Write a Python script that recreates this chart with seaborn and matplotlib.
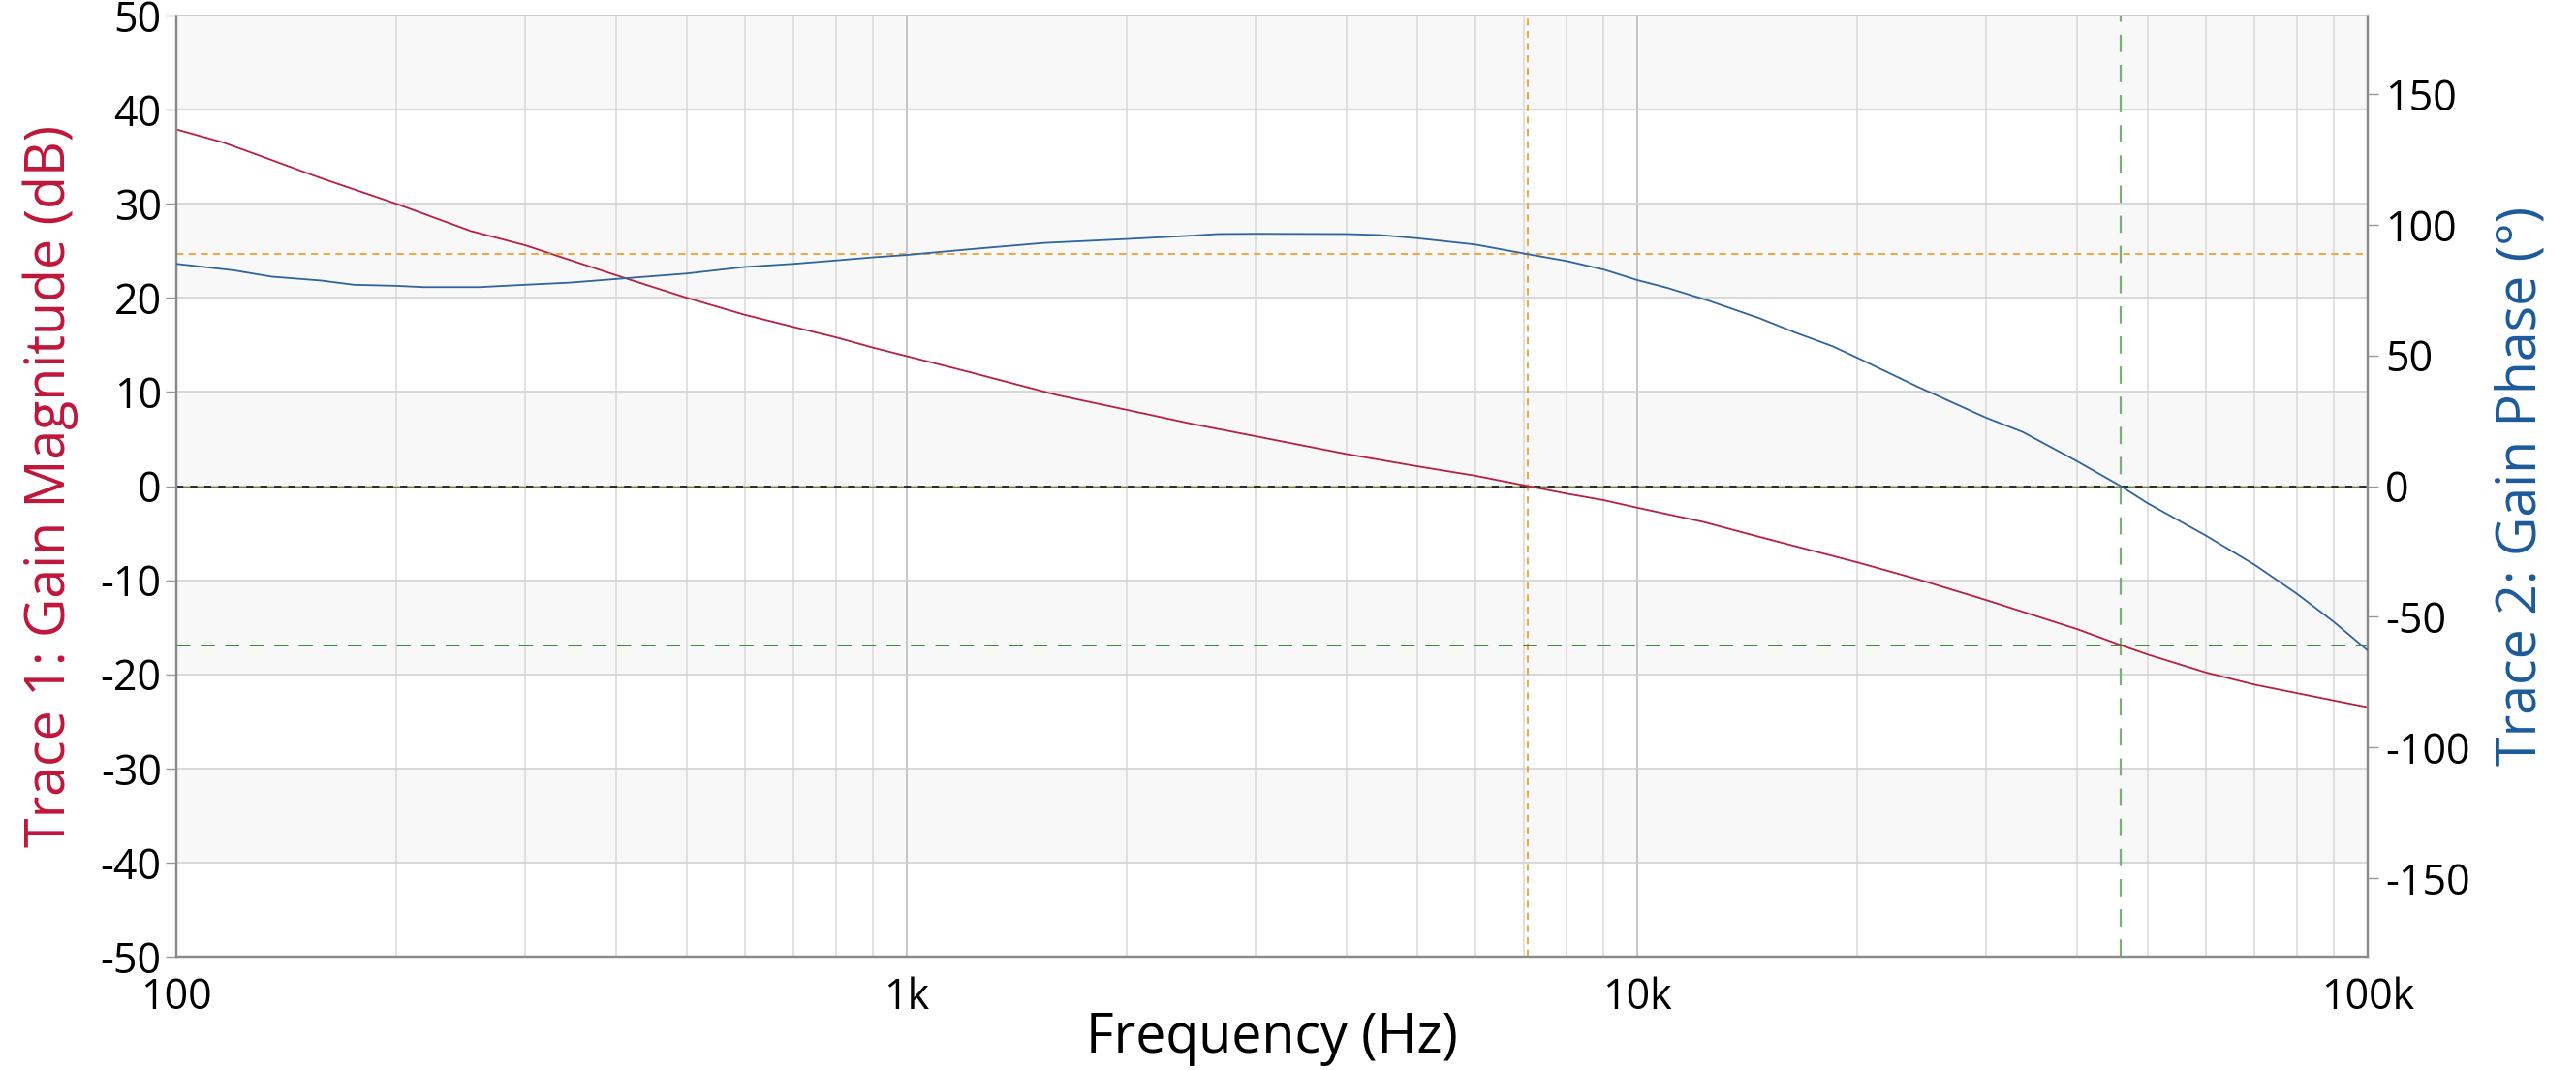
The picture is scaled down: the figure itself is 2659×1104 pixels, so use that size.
import numpy as np
import pandas as pd
import matplotlib
matplotlib.use("Agg")
import matplotlib.pyplot as plt
from matplotlib.ticker import FixedLocator, NullFormatter, LogLocator
import seaborn as sns

# ---- data ----
mag_freq = [100, 116, 127, 158, 200, 253, 300, 400, 500, 600, 700, 800, 900, 1000,
            1220, 1600, 2000, 2460, 3000, 4000, 5000, 6000, 7080, 8000, 9000, 10000,
            12300, 14700, 20000, 24200, 30000, 40000, 45900, 50000, 60000, 70000,
            80000, 90000, 100000]
mag_db = [37.9, 36.5, 35.4, 32.7, 30.0, 27.1, 25.6, 22.4, 20.0, 18.2, 16.9, 15.8, 14.7, 13.8,
          12.1, 9.7, 8.1, 6.6, 5.3, 3.4, 2.1, 1.1, 0.0, -0.8, -1.5, -2.3,
          -3.8, -5.4, -8.1, -9.9, -12.1, -15.2, -16.9, -17.9, -19.8, -21.1,
          -22.0, -22.8, -23.5]

ph_freq = [100, 120, 135, 158, 175, 200, 218, 260, 300, 345, 400, 500, 600, 700, 800, 900,
           1000, 1220, 1540, 2000, 2460, 2660, 3000, 4000, 4460, 5000, 6000, 7080, 8000,
           9000, 10000, 11000, 12500, 14700, 16500, 18500, 20000, 24200, 30000, 33700, 40000,
           45900, 50000, 60000, 70000, 80000, 90000, 100000]
ph_deg = [85.0, 82.5, 80.1, 78.6, 77.0, 76.6, 76.1, 76.1, 77.0, 77.8, 79.2, 81.3, 83.8, 85.0,
          86.3, 87.5, 88.4, 90.6, 93.0, 94.5, 95.8, 96.4, 96.5, 96.4, 96.0, 94.8, 92.4, 88.7,
          86.1, 82.8, 78.8, 75.8, 71.0, 64.2, 58.6, 53.5, 49.1, 38.0, 26.2, 20.7, 9.5,
          0.0, -6.6, -18.9, -30.1, -41.2, -52.1, -62.9]

# cursor markers
crossover_freq = 7080      # 0 dB crossing
phase_at_crossover = 88.7  # deg
phase_cross_freq = 45900   # 0 deg crossing
gain_at_phase_cross = -16.9

x_ticks = [100, 1000, 10000, 100000]
x_labels = ["100", "1k", "10k", "100k"]
y1_ticks = list(range(-50, 51, 10))
y2_ticks = [-150, -100, -50, 0, 50, 100, 150]

RED = "#b81f45"
BLUE = "#2f64a0"
RED_LBL = "#c0163a"
BLUE_LBL = "#1c5a9c"

sns.set_theme(style="white")
plt.rcParams["font.family"] = ["Open Sans", "DejaVu Sans"]
plt.rcParams["axes.unicode_minus"] = False
plt.rcParams["xtick.color"] = "black"
plt.rcParams["ytick.color"] = "black"
plt.rcParams["axes.labelcolor"] = "black"
plt.rcParams["text.color"] = "black"

fig = plt.figure(figsize=(26.59, 11.04), dpi=100)
ax = fig.add_axes([182/2659, 1-987/1104, (2444-182)/2659, (987-16)/1104])
ax.set_xscale("log")
ax.set_xlim(100, 100000)
ax.set_ylim(-50, 50)

# alternating bands
for lo in range(-40, 50, 20):
    ax.axhspan(lo, lo + 10, color="#f8f8f8", zorder=0, lw=0)

# grid
ax.xaxis.set_major_locator(FixedLocator(x_ticks))
ax.xaxis.set_minor_locator(LogLocator(base=10, subs=np.arange(2, 10)))
ax.xaxis.set_minor_formatter(NullFormatter())
ax.set_xticks(x_ticks)
ax.set_xticklabels(x_labels)
ax.set_yticks(y1_ticks)
ax.grid(True, which="major", axis="x", color="#bdbdbd", lw=1.2, zorder=0.5)
ax.grid(True, which="minor", axis="x", color="#dcdcdc", lw=1.2, zorder=0.5)
ax.grid(True, which="major", axis="y", color="#d2d2d2", lw=1.2, zorder=0.5)
ax.set_axisbelow(True)

df_mag = pd.DataFrame({"freq": mag_freq, "mag": mag_db})
sns.lineplot(data=df_mag, x="freq", y="mag", ax=ax, color=RED, lw=1.3, zorder=3)

# cursors on the magnitude axis
ax.axvline(crossover_freq, color="#f0a030", lw=1.3, ls=(0, (4, 3)), zorder=2)
ax.axvline(phase_cross_freq, color="#78b078", lw=1.6, ls=(0, (8, 6)), zorder=2)
ax.axhline(gain_at_phase_cross, color="#2e7d32", lw=1.3, ls=(0, (8, 6)), zorder=2)
ax.axhline(0, color="#6a8a30", lw=1.0, zorder=2)
ax.axhline(0, color="#222222", lw=1.3, ls=(0, (4, 4)), zorder=2)

ax.tick_params(axis="y", which="major", length=8, width=1, color="#999999",
               labelcolor="black", labelsize=31, pad=3, direction="out", left=True)
ax.tick_params(axis="x", which="both", length=0, labelsize=31, labelcolor="black", pad=15)
ax.set_xlabel("Frequency (Hz)", fontsize=40, labelpad=-7, color="black")
ax.set_ylabel("Trace 1: Gain Magnitude (dB)", fontsize=40, color=RED_LBL, labelpad=16)

# phase axis
ax2 = ax.twinx()
ax2.set_ylim(-180, 180)
df_ph = pd.DataFrame({"freq": ph_freq, "phase": ph_deg})
sns.lineplot(data=df_ph, x="freq", y="phase", ax=ax2, color=BLUE, lw=1.3, zorder=3)
ax2.axhline(phase_at_crossover, color="#f0a030", lw=1.3, ls=(0, (4, 3)), zorder=2)
ax2.set_yticks(y2_ticks)
ax2.tick_params(axis="y", length=8, width=1, color="#999999", labelcolor="black",
                labelsize=31, pad=5, direction="out", right=True)
ax2.set_ylabel("Trace 2: Gain Phase (°)", fontsize=40, color=BLUE_LBL, labelpad=18)
ax2.grid(False)
ax2.set_xlim(100, 100000)

for a in (ax, ax2):
    for side in ("left", "right", "bottom"):
        a.spines[side].set_color("#8a8a8a")
        a.spines[side].set_linewidth(1.6)
    a.spines["top"].set_color("#c8c8c8")
    a.spines["top"].set_linewidth(1.2)

fig.savefig("out.png", dpi=100, facecolor="white")
